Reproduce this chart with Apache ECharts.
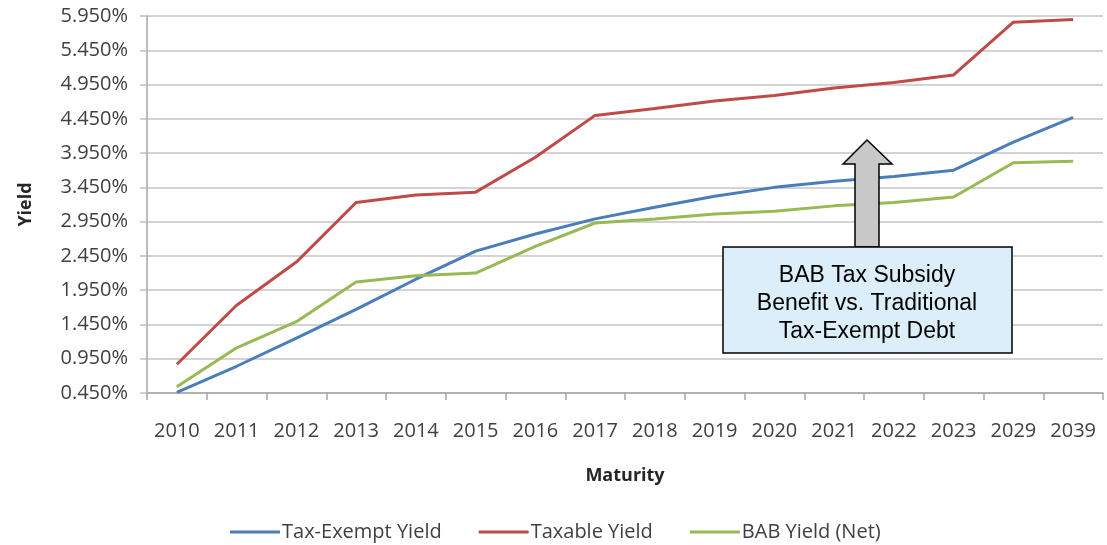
<!DOCTYPE html>
<html>
<head>
<meta charset="utf-8">
<script src="https://cdn.jsdelivr.net/npm/echarts@6/dist/echarts.min.js"></script>
<style>html,body{margin:0;padding:0;background:#fff;}#c{width:1107px;height:545px;}</style>
</head>
<body>
<div id="c"></div>
<script>
var categories = ['2010','2011','2012','2013','2014','2015','2016','2017','2018','2019','2020','2021','2022','2023','2029','2039'];
var taxExempt = [0.46,0.84,1.25,1.67,2.11,2.52,2.77,2.99,3.16,3.32,3.45,3.54,3.61,3.70,4.11,4.47];
var taxable   = [0.87,1.73,2.36,3.23,3.34,3.38,3.89,4.50,4.60,4.71,4.79,4.90,4.98,5.09,5.86,5.90];
var babNet    = [0.54,1.11,1.49,2.07,2.16,2.20,2.59,2.93,2.99,3.06,3.10,3.18,3.23,3.31,3.81,3.83];
var seriesNames = ['Tax-Exempt Yield','Taxable Yield','BAB Yield (Net)'];
var annotationLines = ['BAB Tax Subsidy','Benefit vs. Traditional','Tax-Exempt Debt'];

var chart = echarts.init(document.getElementById('c'), null, {renderer:'canvas'});
var font = '"Open Sans", sans-serif';
var colors = ['#4a7ebb','#be4b48','#98b954'];
function mk(name, data, color){
  return {name:name, type:'line', data:data, symbol:'none', smooth:false,
    lineStyle:{color:color, width:3}, itemStyle:{color:color}, z:3};
}
chart.setOption({
  animation:false,
  backgroundColor:'#ffffff',
  grid:{left:147, right:4, top:16, bottom:152, containLabel:false},
  legend:{
    left:225, top:522, padding:[0,5], itemWidth:50, itemHeight:3, itemGap:37, icon:'rect',
    textStyle:{fontFamily:font, fontSize:20, color:'#404040', padding:[0,0,0,-3]},
    data:seriesNames
  },
  xAxis:{
    type:'category', data:categories, boundaryGap:true,
    name:'Maturity', nameLocation:'middle', nameGap:74,
    nameTextStyle:{fontFamily:font, fontSize:18, fontWeight:'bold', color:'#262626'},
    axisLine:{lineStyle:{color:'#a6a6a6', width:1.5}},
    axisTick:{show:true, length:7, lineStyle:{color:'#a6a6a6', width:1.5}},
    axisLabel:{fontFamily:font, fontSize:20, color:'#404040', margin:28}
  },
  yAxis:{
    type:'value', min:0.45, max:5.95, interval:0.5,
    name:'Yield', nameLocation:'middle', nameGap:112, nameRotate:90,
    nameTextStyle:{fontFamily:font, fontSize:18, fontWeight:'bold', color:'#262626'},
    axisLine:{show:true, lineStyle:{color:'#a6a6a6', width:1.5}},
    axisTick:{show:true, length:7, lineStyle:{color:'#bfbfbf', width:1.5}},
    splitLine:{lineStyle:{color:'#c4c4c4', width:1.5}},
    axisLabel:{fontFamily:font, fontSize:20, color:'#404040', margin:19,
      formatter:function(v){return v.toFixed(3)+'%';}}
  },
  series:[mk(seriesNames[0],taxExempt,colors[0]), mk(seriesNames[1],taxable,colors[1]), mk(seriesNames[2],babNet,colors[2])],
  graphic:[
    {type:'polygon', z:100, shape:{points:[[867,140],[843,164],[855,164],[855,247],[879,247],[879,164],[892,164]]},
      style:{fill:'#c8c8c8', stroke:'#000', lineWidth:1.5}},
    {type:'rect', z:101, shape:{x:723, y:247, width:289, height:106},
      style:{fill:'#dbeef9', stroke:'#000', lineWidth:1.5}},
    {type:'text', z:102, x:867, y:304,
      style:{text:annotationLines.join('\n'), align:'center', verticalAlign:'middle',
        font:'23px "Liberation Sans", Arial, sans-serif', lineHeight:28, fill:'#000'}}
  ]
});
</script>
</body>
</html>
